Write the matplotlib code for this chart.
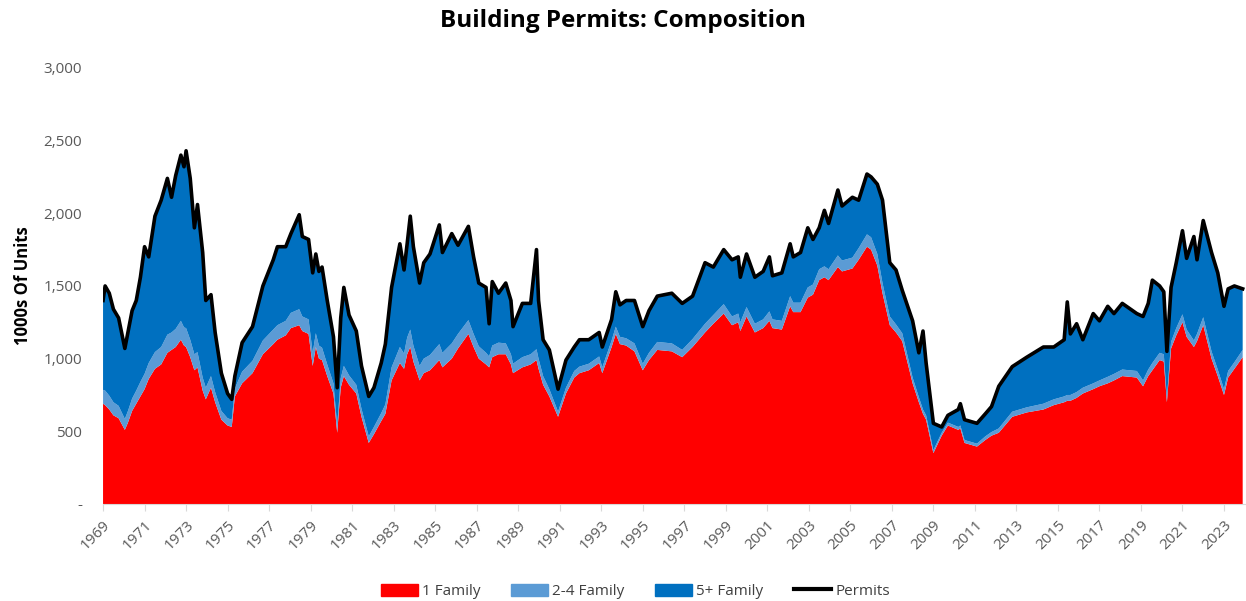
import numpy as np
import matplotlib
matplotlib.use('Agg')
import matplotlib.pyplot as plt
from matplotlib.patches import Patch
from matplotlib.lines import Line2D

plt.rcParams['font.family'] = ['Open Sans', 'DejaVu Sans']

# dates as decimal years, values in 1000s of units (SAAR)
dates = [1969.00, 1969.10, 1969.30, 1969.50, 1969.75, 1970.05, 1970.20, 1970.40, 1970.60, 1970.80,
         1971.00, 1971.20, 1971.50, 1971.80, 1972.10, 1972.30, 1972.50, 1972.75, 1972.90, 1973.00,
         1973.20, 1973.40, 1973.55, 1973.80, 1973.95, 1974.20, 1974.40, 1974.70, 1975.00, 1975.20,
         1975.35, 1975.70, 1976.20, 1976.70, 1977.20, 1977.40, 1977.80, 1978.05, 1978.45, 1978.60,
         1978.90, 1979.10, 1979.25, 1979.40, 1979.55, 1979.80, 1980.10, 1980.28, 1980.45, 1980.60,
         1980.85, 1981.20, 1981.45, 1981.80, 1982.05, 1982.40, 1982.60, 1982.90, 1983.30, 1983.50,
         1983.65, 1983.80, 1983.95, 1984.25, 1984.45, 1984.75, 1985.20, 1985.35, 1985.80, 1986.10,
         1986.60, 1986.85, 1987.10, 1987.45, 1987.60, 1987.75, 1988.05, 1988.40, 1988.65, 1988.75,
         1989.20, 1989.60, 1989.88, 1989.98, 1990.20, 1990.50, 1990.92, 1991.30, 1991.70, 1991.95,
         1992.40, 1992.90, 1993.05, 1993.50, 1993.70, 1993.90, 1994.20, 1994.60, 1995.00, 1995.30,
         1995.70, 1996.40, 1996.90, 1997.40, 1998.00, 1998.40, 1998.90, 1999.30, 1999.60, 1999.70,
         2000.00, 2000.40, 2000.80, 2001.10, 2001.25, 2001.70, 2002.10, 2002.25, 2002.60, 2002.95,
         2003.20, 2003.50, 2003.75, 2003.95, 2004.40, 2004.60, 2005.10, 2005.40, 2005.80, 2006.00,
         2006.30, 2006.55, 2006.90, 2007.20, 2007.50, 2008.00, 2008.30, 2008.50, 2008.65, 2009.00,
         2009.40, 2009.70, 2010.20, 2010.30, 2010.50, 2011.10, 2011.50, 2011.80, 2012.15, 2012.80,
         2013.50, 2014.30, 2014.80, 2015.30, 2015.45, 2015.60, 2015.90, 2016.20, 2016.70, 2017.00,
         2017.40, 2017.70, 2018.10, 2018.80, 2019.10, 2019.35, 2019.55, 2019.90, 2020.10, 2020.25,
         2020.45, 2020.70, 2021.00, 2021.20, 2021.55, 2021.70, 2022.00, 2022.40, 2022.70, 2023.00,
         2023.20, 2023.50, 2023.90]

permits = [1400, 1500, 1450, 1340, 1280, 1070, 1180, 1330, 1400, 1560,
           1770, 1700, 1980, 2090, 2240, 2110, 2260, 2400, 2320, 2430,
           2240, 1900, 2060, 1730, 1400, 1440, 1180, 900, 760, 720,
           880, 1110, 1220, 1500, 1680, 1770, 1770, 1860, 1990, 1840,
           1820, 1590, 1720, 1600, 1630, 1400, 1150, 800, 1280, 1490,
           1300, 1190, 950, 740, 800, 970, 1100, 1490, 1790, 1610,
           1790, 1980, 1770, 1520, 1660, 1720, 1920, 1730, 1860, 1780,
           1910, 1700, 1520, 1490, 1240, 1530, 1450, 1520, 1400, 1220,
           1380, 1380, 1750, 1400, 1130, 1060, 790, 990, 1080, 1130,
           1130, 1180, 1080, 1270, 1460, 1370, 1400, 1400, 1220, 1330,
           1430, 1450, 1380, 1430, 1660, 1630, 1750, 1680, 1700, 1560,
           1720, 1560, 1600, 1700, 1570, 1590, 1790, 1700, 1730, 1900,
           1820, 1900, 2020, 1930, 2160, 2050, 2110, 2090, 2270, 2250,
           2200, 2090, 1660, 1610, 1470, 1260, 1040, 1190, 970, 555,
           530, 610, 650, 690, 580, 555, 620, 670, 810, 945,
           1010, 1080, 1080, 1130, 1390, 1170, 1240, 1130, 1310, 1260,
           1360, 1310, 1380, 1310, 1290, 1380, 1540, 1500, 1460, 1050,
           1490, 1660, 1880, 1690, 1840, 1680, 1950, 1730, 1590, 1360,
           1480, 1500, 1480]

one_family = [690, 680, 650, 610, 590, 510, 560, 640, 690, 740,
              790, 860, 930, 960, 1040, 1060, 1080, 1130, 1090, 1080,
              1010, 920, 940, 780, 720, 800, 700, 580, 540, 530,
              740, 830, 900, 1030, 1100, 1130, 1160, 1210, 1230, 1190,
              1170, 950, 1080, 1000, 990, 880, 760, 490, 800, 880,
              820, 760, 600, 420, 480, 570, 620, 850, 970, 930,
              1030, 1080, 980, 850, 900, 920, 990, 940, 1000, 1070,
              1170, 1080, 1000, 960, 940, 1010, 1030, 1030, 960, 900,
              940, 960, 990, 930, 820, 740, 600, 760, 870, 900,
              920, 970, 900, 1080, 1170, 1100, 1090, 1050, 920, 990,
              1060, 1050, 1010, 1080, 1180, 1240, 1310, 1230, 1250, 1190,
              1290, 1180, 1210, 1260, 1210, 1200, 1360, 1320, 1320, 1420,
              1440, 1540, 1560, 1540, 1630, 1600, 1620, 1680, 1770, 1750,
              1640, 1450, 1230, 1180, 1120, 830, 700, 620, 580, 350,
              470, 540, 510, 520, 420, 395, 440, 470, 490, 600,
              630, 650, 680, 700, 710, 710, 730, 760, 790, 810,
              830, 850, 880, 870, 810, 880, 920, 990, 980, 700,
              1070, 1160, 1250, 1150, 1080, 1120, 1230, 1000, 880, 750,
              870, 930, 1010]

two_to_four = [95, 100, 95, 90, 85, 75, 80, 85, 90, 100,
               105, 110, 115, 120, 125, 120, 125, 130, 125, 130,
               120, 110, 105, 90, 80, 80, 70, 60, 50, 50,
               55, 80, 85, 95, 100, 100, 100, 105, 110, 100,
               100, 90, 95, 90, 85, 80, 70, 50, 65, 70,
               65, 60, 55, 45, 50, 55, 65, 90, 110, 105,
               115, 120, 110, 100, 100, 105, 110, 100, 105, 100,
               95, 90, 85, 80, 75, 80, 80, 75, 70, 65,
               70, 70, 75, 70, 60, 50, 35, 40, 45, 45,
               45, 45, 40, 45, 50, 50, 50, 55, 45, 50,
               55, 55, 50, 55, 60, 60, 65, 60, 60, 60,
               65, 60, 60, 65, 60, 60, 70, 65, 65, 70,
               70, 75, 75, 75, 80, 75, 75, 80, 85, 85,
               80, 70, 60, 55, 55, 40, 35, 30, 30, 20,
               20, 20, 20, 20, 20, 20, 25, 25, 30, 35,
               35, 40, 40, 40, 40, 40, 40, 40, 40, 40,
               45, 45, 45, 45, 40, 45, 50, 50, 50, 30,
               45, 50, 55, 50, 45, 50, 55, 50, 45, 40,
               45, 45, 50]

labels = ['1 Family', '2-4 Family', '5+ Family', 'Permits']
colors = ['#FF0000', '#5B9BD5', '#0070C0']

x = np.array(dates)
p = np.array(permits, dtype=float)
one = np.array(one_family, dtype=float)
two = np.array(two_to_four, dtype=float)
five = p - one - two

fig = plt.figure(figsize=(12.46, 6.01), dpi=100)
ax = fig.add_axes([0.0827, 0.1614, 0.9163, 0.7256])

ax.stackplot(x, one, two, five, colors=colors, linewidth=0)
ax.plot(x, p, color='black', lw=2.6, solid_joinstyle='round')

ax.set_xlim(1969, 2024)
ax.set_ylim(0, 3000)
ax.set_yticks(np.arange(0, 3001, 500))
ax.set_yticklabels(['-', '500', '1,000', '1,500', '2,000', '2,500', '3,000'])
ax.set_xticks(np.arange(1969, 2024, 2))
ax.set_xticklabels([str(y) for y in range(1969, 2024, 2)], rotation=45, ha='right',
                   rotation_mode='anchor')

for s in ['top', 'right', 'left']:
    ax.spines[s].set_visible(False)
ax.spines['bottom'].set_color('#D9D9D9')
ax.tick_params(axis='y', length=0, pad=15, labelsize=11, labelcolor='#595959')
ax.tick_params(axis='x', length=5, color='#D9D9D9', labelsize=11, labelcolor='#595959', pad=5)

ax.set_ylabel('1000s Of Units', fontsize=12, fontweight='bold', labelpad=8)
fig.suptitle('Building Permits: Composition', fontsize=17.5, fontweight='bold', y=0.985)

handles = [Patch(color=colors[0]), Patch(color=colors[1]), Patch(color=colors[2]),
           Line2D([0], [0], color='black', lw=3)]
fig.legend(handles, labels, loc='lower center', bbox_to_anchor=(0.51, -0.02), ncol=4,
           frameon=False, fontsize=11, handlelength=2.4, handleheight=0.9,
           handletextpad=0.3, columnspacing=2.0, labelcolor='#404040')

fig.savefig('out.png', dpi=100)
